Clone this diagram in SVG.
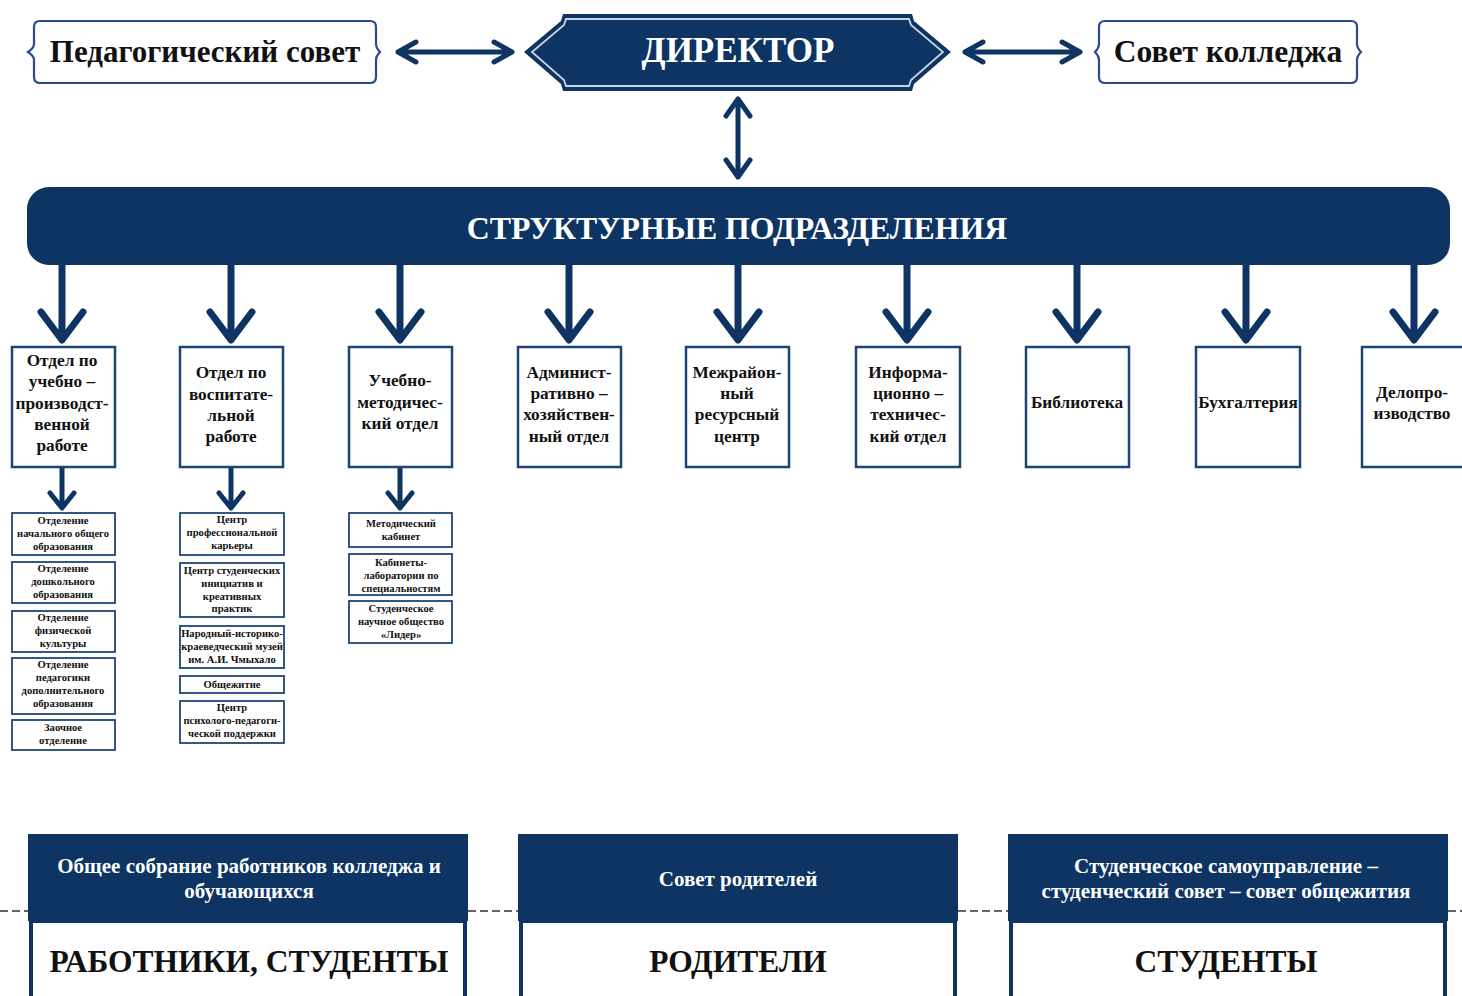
<svg xmlns="http://www.w3.org/2000/svg" width="1462" height="996" viewBox="0 0 1462 996">
<style>
.t{font-family:"Liberation Serif","DejaVu Serif",serif;font-weight:bold;text-anchor:middle}
.dk{fill:#111}
.wh{fill:#fff}
.scroll{fill:#fff;stroke:#2c4a8e;stroke-width:2.2}
.dept{fill:#fff;stroke:#1d4677;stroke-width:2.5}
.sub{fill:#fff;stroke:#1d4677;stroke-width:1.8}
.arr{fill:none;stroke:#0d3462;stroke-linecap:round;stroke-linejoin:round}
.navy{fill:#0d3462}
.d16{font-size:17.3px}
.d10{font-size:10.6px}
.dash{stroke:#333;stroke-width:1.6;stroke-dasharray:8 4}
</style>
<rect width="1462" height="996" fill="#fff"/>

<g id="ped-council">
<path class="scroll" d="M40,21 H370 Q376,21 376,27 V44 Q376,48 380,52 Q376,56 376,60 V77 Q376,83 370,83 H40 Q34,83 34,77 V60 Q34,56 28,52 Q34,48 34,44 V27 Q34,21 40,21 Z"/>
<text class="t dk" x="205" y="62" font-size="31">Педагогический совет</text>
</g>

<g id="director">
<polygon class="navy" points="563,14 912,14 914,21 951,52 914,84 912,91 563,91 561,84 524,52 561,21"/>
<polygon fill="none" stroke="#c9d4e3" stroke-width="1.8" points="566,19 909,19 911,25 943,52 911,80 909,86 566,86 564,80 532,52 564,25"/>
<text class="t wh" x="738" y="62" font-size="35">ДИРЕКТОР</text>
</g>

<g id="college-council">
<path class="scroll" d="M1105,21 H1351 Q1357,21 1357,27 V44 Q1357,48 1361,52 Q1357,56 1357,60 V77 Q1357,83 1351,83 H1105 Q1099,83 1099,77 V60 Q1099,56 1095,52 Q1099,48 1099,44 V27 Q1099,21 1105,21 Z"/>
<text class="t dk" x="1228" y="62" font-size="31.5">Совет колледжа</text>
</g>

<g id="structural">
<rect class="navy" x="27" y="187" width="1423" height="78" rx="22"/>
<text class="t wh" x="737" y="239" font-size="31.8">СТРУКТУРНЫЕ ПОДРАЗДЕЛЕНИЯ</text>
</g>

<g id="connectors">
<g class="arr" stroke-width="5">
<path d="M398,52 H512 M416,42 L398,52 L416,62 M494,42 L512,52 L494,62"/>
<path d="M965,52 H1080 M983,42 L965,52 L983,62 M1062,42 L1080,52 L1062,62"/>
<path d="M738,99 V177 M726,116 L738,99 L750,116 M726,160 L738,177 L750,160"/>
</g>
<g class="arr" stroke-width="7">
<path d="M62,265 V338 M41,312 L62,340 L83,312"/>
<path d="M231,265 V338 M210,312 L231,340 L252,312"/>
<path d="M400,265 V338 M379,312 L400,340 L421,312"/>
<path d="M569,265 V338 M548,312 L569,340 L590,312"/>
<path d="M738,265 V338 M717,312 L738,340 L759,312"/>
<path d="M907,265 V338 M886,312 L907,340 L928,312"/>
<path d="M1077,265 V338 M1056,312 L1077,340 L1098,312"/>
<path d="M1246,265 V338 M1225,312 L1246,340 L1267,312"/>
<path d="M1414,265 V338 M1393,312 L1414,340 L1435,312"/>
</g>
<g class="arr" stroke-width="5">
<path d="M62,467 V507 M50,493 L62,508 L74,493"/>
<path d="M231,467 V507 M219,493 L231,508 L243,493"/>
<path d="M400,467 V507 M388,493 L400,508 L412,493"/>
</g>
<g>
<line class="dash" x1="0" y1="911" x2="28" y2="911"/>
<line class="dash" x1="468" y1="911" x2="518" y2="911"/>
<line class="dash" x1="958" y1="911" x2="1008" y2="911"/>
<line class="dash" x1="1448" y1="911" x2="1462" y2="911"/>
</g>
</g>

<g id="dept1">
<rect class="dept" x="12" y="347" width="103" height="120"/>
<text class="t dk d16" x="62"><tspan x="62" y="366">Отдел по</tspan><tspan x="62" y="387">учебно –</tspan><tspan x="62" y="409">производст-</tspan><tspan x="62" y="430">венной</tspan><tspan x="62" y="451">работе</tspan></text>
</g>
<g id="dept2">
<rect class="dept" x="180" y="347" width="103" height="120"/>
<text class="t dk d16" x="231"><tspan x="231" y="378">Отдел по</tspan><tspan x="231" y="400">воспитате-</tspan><tspan x="231" y="421">льной</tspan><tspan x="231" y="442">работе</tspan></text>
</g>
<g id="dept3">
<rect class="dept" x="349" y="347" width="103" height="120"/>
<text class="t dk d16" x="400"><tspan x="400" y="386">Учебно-</tspan><tspan x="400" y="408">методичес-</tspan><tspan x="400" y="429">кий отдел</tspan></text>
</g>
<g id="dept4">
<rect class="dept" x="518" y="347" width="103" height="120"/>
<text class="t dk d16" x="569"><tspan x="569" y="378">Админист-</tspan><tspan x="569" y="399">ративно –</tspan><tspan x="569" y="420">хозяйствен-</tspan><tspan x="569" y="442">ный отдел</tspan></text>
</g>
<g id="dept5">
<rect class="dept" x="686" y="347" width="103" height="120"/>
<text class="t dk d16" x="737"><tspan x="737" y="378">Межрайон-</tspan><tspan x="737" y="399">ный</tspan><tspan x="737" y="420">ресурсный</tspan><tspan x="737" y="442">центр</tspan></text>
</g>
<g id="dept6">
<rect class="dept" x="856" y="347" width="104" height="120"/>
<text class="t dk d16" x="908"><tspan x="908" y="378">Информа-</tspan><tspan x="908" y="399">ционно –</tspan><tspan x="908" y="420">техничес-</tspan><tspan x="908" y="442">кий отдел</tspan></text>
</g>
<g id="dept7">
<rect class="dept" x="1026" y="347" width="103" height="120"/>
<text class="t dk d16" x="1077" y="408">Библиотека</text>
</g>
<g id="dept8">
<rect class="dept" x="1196" y="347" width="104" height="120"/>
<text class="t dk d16" x="1248" y="408">Бухгалтерия</text>
</g>
<g id="dept9">
<rect class="dept" x="1362" y="347" width="104" height="120"/>
<text class="t dk d16" x="1412"><tspan x="1412" y="398">Делопро-</tspan><tspan x="1412" y="419">изводство</tspan></text>
</g>

<g id="sub1-1"><rect class="sub" x="12" y="513" width="103" height="42"/>
<text class="t dk d10"><tspan x="63" y="524">Отделение</tspan><tspan x="63" y="537">начального общего</tspan><tspan x="63" y="550">образования</tspan></text></g>
<g id="sub1-2"><rect class="sub" x="12" y="562" width="103" height="41"/>
<text class="t dk d10"><tspan x="63" y="572">Отделение</tspan><tspan x="63" y="585">дошкольного</tspan><tspan x="63" y="598">образования</tspan></text></g>
<g id="sub1-3"><rect class="sub" x="12" y="611" width="103" height="41"/>
<text class="t dk d10"><tspan x="63" y="621">Отделение</tspan><tspan x="63" y="634">физической</tspan><tspan x="63" y="647">культуры</tspan></text></g>
<g id="sub1-4"><rect class="sub" x="12" y="658" width="103" height="56"/>
<text class="t dk d10"><tspan x="63" y="668">Отделение</tspan><tspan x="63" y="681">педагогики</tspan><tspan x="63" y="694">дополнительного</tspan><tspan x="63" y="707">образования</tspan></text></g>
<g id="sub1-5"><rect class="sub" x="12" y="720" width="103" height="30"/>
<text class="t dk d10"><tspan x="63" y="731">Заочное</tspan><tspan x="63" y="744">отделение</tspan></text></g>

<g id="sub2-1"><rect class="sub" x="180" y="513" width="104" height="42"/>
<text class="t dk d10"><tspan x="232" y="523">Центр</tspan><tspan x="232" y="536">профессиональной</tspan><tspan x="232" y="549">карьеры</tspan></text></g>
<g id="sub2-2"><rect class="sub" x="180" y="563" width="104" height="54"/>
<text class="t dk d10"><tspan x="232" y="574">Центр студенческих</tspan><tspan x="232" y="587">инициатив и</tspan><tspan x="232" y="600">креативных</tspan><tspan x="232" y="612">практик</tspan></text></g>
<g id="sub2-3"><rect class="sub" x="180" y="626" width="104" height="42"/>
<text class="t dk d10"><tspan x="232" y="637">Народный-историко-</tspan><tspan x="232" y="650">краеведческий музей</tspan><tspan x="232" y="663">им. А.И. Чмыхало</tspan></text></g>
<g id="sub2-4"><rect class="sub" x="180" y="676" width="104" height="17"/>
<text class="t dk d10" x="232" y="688">Общежитие</text></g>
<g id="sub2-5"><rect class="sub" x="180" y="701" width="104" height="42"/>
<text class="t dk d10"><tspan x="232" y="711">Центр</tspan><tspan x="232" y="724">психолого-педагоги-</tspan><tspan x="232" y="737">ческой поддержки</tspan></text></g>

<g id="sub3-1"><rect class="sub" x="349" y="513" width="103" height="34"/>
<text class="t dk d10"><tspan x="401" y="527">Методический</tspan><tspan x="401" y="540">кабинет</tspan></text></g>
<g id="sub3-2"><rect class="sub" x="349" y="554" width="103" height="41"/>
<text class="t dk d10"><tspan x="401" y="566">Кабинеты-</tspan><tspan x="401" y="579">лаборатории по</tspan><tspan x="401" y="592">специальностям</tspan></text></g>
<g id="sub3-3"><rect class="sub" x="349" y="601" width="103" height="42"/>
<text class="t dk d10"><tspan x="401" y="612">Студенческое</tspan><tspan x="401" y="625">научное общество</tspan><tspan x="401" y="638">«Лидер»</tspan></text></g>

<g id="workers">
<rect class="navy" x="28" y="834" width="440" height="87"/>
<rect x="31" y="921" width="434" height="80" fill="#fff" stroke="#0d3462" stroke-width="4"/>
<text class="t wh" font-size="21"><tspan x="249" y="873">Общее собрание работников колледжа и</tspan><tspan x="249" y="898">обучающихся</tspan></text>
<text class="t dk" x="249" y="972" font-size="31.5">РАБОТНИКИ, СТУДЕНТЫ</text>
</g>
<g id="parents">
<rect class="navy" x="518" y="834" width="440" height="87"/>
<rect x="521" y="921" width="434" height="80" fill="#fff" stroke="#0d3462" stroke-width="4"/>
<text class="t wh" x="738" y="886" font-size="21">Совет родителей</text>
<text class="t dk" x="738" y="972" font-size="31.5">РОДИТЕЛИ</text>
</g>
<g id="students">
<rect class="navy" x="1008" y="834" width="440" height="87"/>
<rect x="1011" y="921" width="434" height="80" fill="#fff" stroke="#0d3462" stroke-width="4"/>
<text class="t wh" font-size="21"><tspan x="1226" y="873">Студенческое самоуправление –</tspan><tspan x="1226" y="898">студенческий совет – совет общежития</tspan></text>
<text class="t dk" x="1226" y="972" font-size="31.5">СТУДЕНТЫ</text>
</g>
</svg>
